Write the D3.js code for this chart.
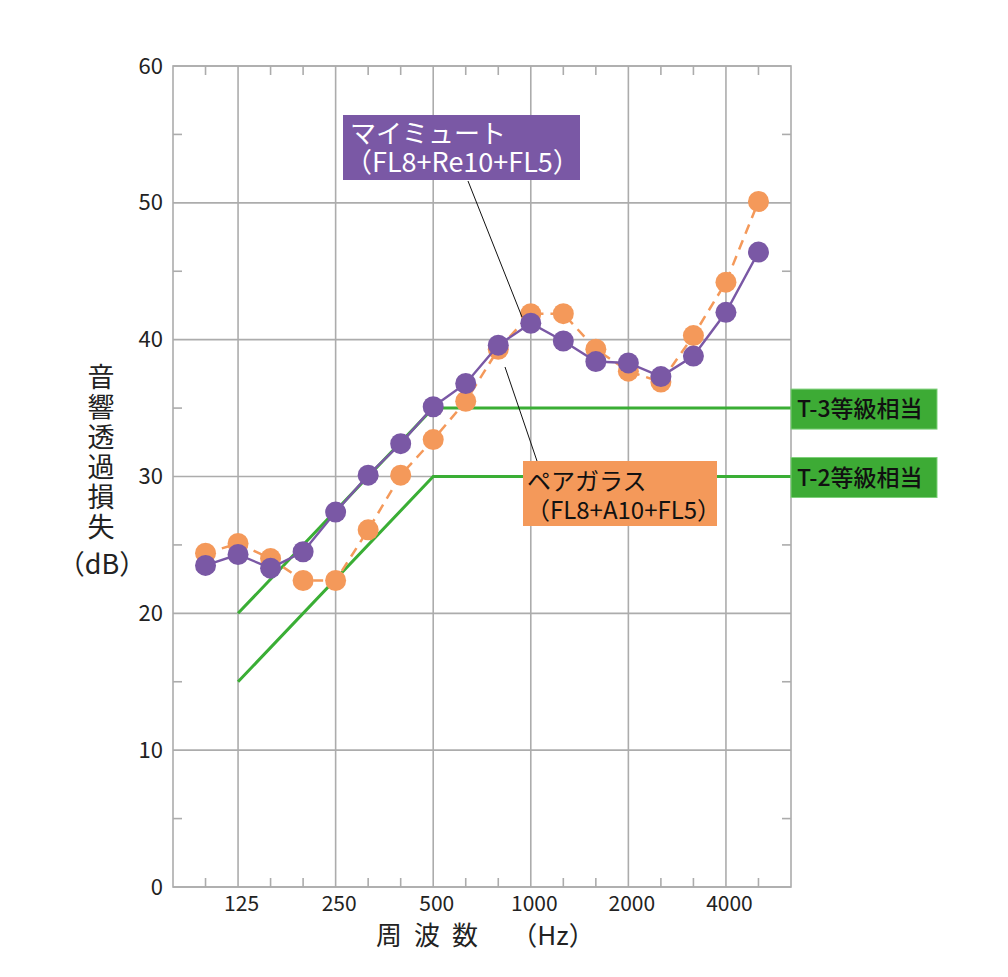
<!DOCTYPE html>
<html><head><meta charset="utf-8">
<script src="https://cdn.jsdelivr.net/npm/d3@7"></script>
<style>
body{margin:0;background:#fff}
text{font-family:"Noto Sans CJK JP","Noto Sans",sans-serif}
</style>
</head><body>
<svg id="c" width="1008" height="977"></svg>
<script>
// third-octave band axis (edges 80 Hz .. 6300 Hz)
const bands = ["80","100","125","160","200","250","315","400","500","630","800","1000","1250","1600","2000","2500","3150","4000","5000","6300"];
const measuredBands = ["100","125","160","200","250","315","400","500","630","800","1000","1250","1600","2000","2500","3150","4000","5000"];
const myMute   = [23.5,24.3,23.3,24.5,27.4,30.1,32.4,35.1,36.8,39.6,41.2,39.9,38.4,38.3,37.3,38.8,42.0,46.4];
const pairGlass= [24.4,25.1,24.0,22.4,22.4,26.1,30.1,32.7,35.5,39.3,41.9,41.9,39.3,37.7,36.9,40.3,44.2,50.1];
const xTickBands = ["125","250","500","1000","2000","4000"];
const xTickLabels = ["125","250","500","1000","2000","4000"];
const yTicks = [0,10,20,30,40,50,60];
const yMinorTicks = [5,15,25,35,45,55];
const t3Bands = ["125","500","6300"], t3Vals = [20,35,35];
const t2Bands = ["125","500","6300"], t2Vals = [15,30,30];
const seriesNames = ["マイミュート","（FL8+Re10+FL5）"];
const series2Names = ["ペアガラス","（FL8+A10+FL5）"];
const gradeNames = ["T-3等級相当","T-2等級相当"];
const yTitle = "音響透過損失";
const yUnit = "（dB）";
const xTitle = ["周","波","数"];
const xUnit = "（Hz）";

const L=173,R=791,T=66,B=887;
const svg=d3.select("#c");
const x=d3.scaleLinear().domain([0,bands.length-1]).range([L,R]);
const y=d3.scaleLinear().domain([0,60]).range([B,T]);
const xb=b=>x(bands.indexOf(b));
const gridC="#acacac";
const purple="#7a58a5", orange="#f4995a", green="#3aae35";

// grid
const g=svg.append("g");
g.selectAll(".hg").data(yTicks).join("line")
  .attr("x1",L).attr("x2",R).attr("y1",d=>y(d)).attr("y2",d=>y(d))
  .attr("stroke",gridC).attr("stroke-width",1.6);
g.selectAll(".vg").data(xTickBands).join("line")
  .attr("x1",d=>xb(d)).attr("x2",d=>xb(d)).attr("y1",T).attr("y2",B)
  .attr("stroke",gridC).attr("stroke-width",1.6);
g.append("rect").attr("x",L).attr("y",T).attr("width",R-L).attr("height",B-T)
  .attr("fill","none").attr("stroke",gridC).attr("stroke-width",1.6);
const minorX=bands.filter((b,i)=>i>0&&i<bands.length-1&&!xTickBands.includes(b));
g.selectAll(".mxb").data(minorX).join("line")
  .attr("x1",d=>xb(d)).attr("x2",d=>xb(d)).attr("y1",B).attr("y2",B-9)
  .attr("stroke",gridC).attr("stroke-width",1.6);
g.selectAll(".mxt").data(minorX).join("line")
  .attr("x1",d=>xb(d)).attr("x2",d=>xb(d)).attr("y1",T).attr("y2",T+9)
  .attr("stroke",gridC).attr("stroke-width",1.6);
g.selectAll(".myl").data(yMinorTicks).join("line")
  .attr("x1",L).attr("x2",L+9).attr("y1",d=>y(d)).attr("y2",d=>y(d))
  .attr("stroke",gridC).attr("stroke-width",1.6);
g.selectAll(".myr").data(yMinorTicks).join("line")
  .attr("x1",R).attr("x2",R-9).attr("y1",d=>y(d)).attr("y2",d=>y(d))
  .attr("stroke",gridC).attr("stroke-width",1.6);

// axis labels via d3 axes
const ax=svg.append("g").attr("transform",`translate(0,${B})`)
  .call(d3.axisBottom(x).tickValues(xTickBands.map(b=>bands.indexOf(b)))
    .tickFormat((d,i)=>xTickLabels[i]).tickSize(0).tickPadding(9));
ax.select(".domain").remove();
ax.selectAll("text").attr("font-size",21).attr("fill","#222").attr("dx",3)
  .style("font-family",'"Noto Sans CJK JP"');
const ay=svg.append("g").attr("transform",`translate(${L},0)`)
  .call(d3.axisLeft(y).tickValues(yTicks).tickFormat(d3.format("d")).tickSize(0).tickPadding(10));
ay.select(".domain").remove();
ay.selectAll("text").attr("font-size",22).attr("fill","#222")
  .style("font-family",'"Noto Sans CJK JP"');

// titles
svg.append("text").attr("x",101).attr("y",363)
  .style("writing-mode","vertical-rl").attr("letter-spacing",3)
  .attr("font-size",27).attr("fill","#222").text(yTitle);
svg.append("text").attr("x",102).attr("y",574).attr("text-anchor","middle")
  .attr("font-size",27).attr("fill","#222").text(yUnit);
svg.selectAll(".xt").data(xTitle).join("text")
  .attr("x",(d,i)=>389+i*38).attr("y",945).attr("text-anchor","middle")
  .attr("font-size",26).attr("fill","#222").text(d=>d);
svg.append("text").attr("x",553).attr("y",945).attr("text-anchor","middle")
  .attr("font-size",26).attr("fill","#222").text(xUnit);

// grade lines
const gl=d3.line().x(d=>xb(d[0])).y(d=>y(d[1]));
svg.append("path").attr("d",gl(t3Bands.map((b,i)=>[b,t3Vals[i]])))
  .attr("fill","none").attr("stroke",green).attr("stroke-width",3);
svg.append("path").attr("d",gl(t2Bands.map((b,i)=>[b,t2Vals[i]])))
  .attr("fill","none").attr("stroke",green).attr("stroke-width",3);
[[t3Vals[2],gradeNames[0]],[t2Vals[2],gradeNames[1]]].forEach(([v,name])=>{
  svg.append("rect").attr("x",R).attr("y",y(v)-19).attr("width",146).attr("height",40)
    .attr("fill","#3dab35").attr("stroke","#7ed07a").attr("stroke-width",1);
  svg.append("text").attr("x",R+6).attr("y",y(v)+9).attr("font-size",23)
    .attr("font-weight",500).attr("fill","#111").text(name);
});

// series
const line=d3.line().x(d=>xb(d[0])).y(d=>y(d[1]));
const pg=measuredBands.map((b,i)=>[b,pairGlass[i]]);
const mm=measuredBands.map((b,i)=>[b,myMute[i]]);
svg.append("path").attr("d",line(pg)).attr("fill","none").attr("stroke",orange)
  .attr("stroke-width",2.5).attr("stroke-dasharray","10,7");
svg.selectAll(".po").data(pg).join("circle").attr("cx",d=>xb(d[0])).attr("cy",d=>y(d[1]))
  .attr("r",10.5).attr("fill",orange);
svg.append("path").attr("d",line(mm)).attr("fill","none").attr("stroke",purple)
  .attr("stroke-width",2.4);
svg.selectAll(".pm").data(mm).join("circle").attr("cx",d=>xb(d[0])).attr("cy",d=>y(d[1]))
  .attr("r",10.5).attr("fill",purple);

// leader lines
svg.append("line").attr("x1",468).attr("y1",181).attr("x2",522).attr("y2",317)
  .attr("stroke","#111").attr("stroke-width",1);
svg.append("line").attr("x1",505).attr("y1",367).attr("x2",537).attr("y2",461)
  .attr("stroke","#111").attr("stroke-width",1);

// callout boxes (two-line labels as one text with tspans)
svg.append("rect").attr("x",343).attr("y",115).attr("width",237).attr("height",65).attr("fill",purple);
const t1=svg.append("text").attr("fill","#fff");
t1.append("tspan").attr("x",350).attr("y",143).attr("font-size",26).text(seriesNames[0]);
t1.append("tspan").attr("x",345).attr("y",172).attr("font-size",27).text(seriesNames[1]);

svg.append("rect").attr("x",523).attr("y",461).attr("width",194).attr("height",65).attr("fill",orange);
const t2=svg.append("text").attr("fill","#111");
t2.append("tspan").attr("x",527).attr("y",490).attr("font-size",24).text(series2Names[0]);
t2.append("tspan").attr("x",526).attr("y",519).attr("font-size",24).text(series2Names[1]);
</script>
</body></html>
